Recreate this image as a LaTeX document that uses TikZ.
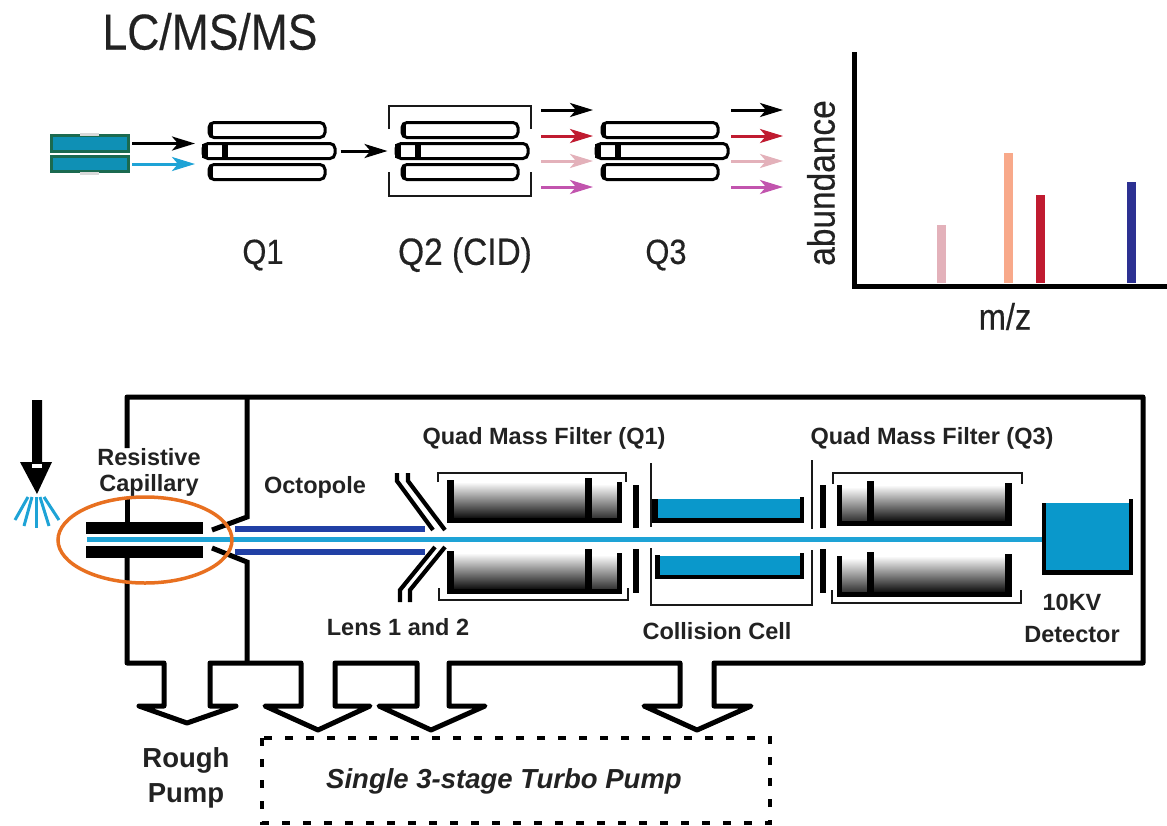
\documentclass[tikz,border=0pt]{standalone}
\usepackage{fontspec}
\setmainfont{Liberation Sans}
\newfontfamily\narrowfont[FakeStretch=0.88,FakeBold=0.35]{Liberation Sans}
\usetikzlibrary{arrows.meta, positioning, shapes.geometric, calc}
\definecolor{teal1}{HTML}{0A98CB}
\definecolor{srcfill}{HTML}{0F90B5}
\definecolor{tealedge}{HTML}{1B6A50}
\definecolor{beam}{HTML}{1EA3D6}
\definecolor{octo}{HTML}{2140A5}
\definecolor{ring}{HTML}{E87020}
\definecolor{ionred}{HTML}{C01B30}
\definecolor{ionpink}{HTML}{E3B1BA}
\definecolor{ionmag}{HTML}{C254AE}
\definecolor{peaksalmon}{HTML}{F8A98A}
\definecolor{peaknavy}{HTML}{2C3192}
\definecolor{labelgray}{HTML}{222222}
\tikzset{
  rodbox/.style={draw=black,fill=white,line width=3pt,rounded corners=5pt,inner sep=0pt,minimum height=15pt},
  srcbox/.style={draw=tealedge,fill=srcfill,line width=3pt,inner sep=0pt,minimum width=77pt,minimum height=15.5pt},
  ionarrow/.style={line width=3pt,-{Stealth[length=23pt,width=14pt,inset=6pt]}},
  bracket/.style={line width=2.4pt,black!90},
  wall/.style={line width=5pt,line join=miter},
  thinwall/.style={line width=2.4pt,black!90},
  toplabel/.style={font=\narrowfont\fontsize{37}{40}\selectfont,text=labelgray,inner sep=0pt},
  boldlabel/.style={font=\bfseries\fontsize{23.5}{26}\selectfont,text=labelgray,align=center,inner sep=0pt},
  pumplabel/.style={font=\bfseries\fontsize{27.5}{35}\selectfont,text=labelgray,align=center,inner sep=0pt},
  quadrods/.pic={
    \node[rodbox,minimum width=116pt] (-up) at (65,-21) {};
    \node[rodbox,minimum width=132pt] (-mid) at (67,0) {};
    \node[rodbox,minimum width=116pt] (-low) at (65,21) {};
    \fill (7,-28) rectangle (11,-14);
    \fill (7,14) rectangle (11,28);
    \fill (0,-7) rectangle (6,7);
    \fill (20,-7) rectangle (26,7);
  },
  filterhalf/.pic={
    \shade[top color=white,middle color=black!55,bottom color=black] (6,2) rectangle (140,40);
    \shade[top color=white,middle color=black!40,bottom color=black!85] (144,4) rectangle (172,40);
    \fill (0,0) rectangle (7,43);
    \fill (138,-2) rectangle (145,43);
    \fill (170,2) rectangle (175,43);
    \fill (0,38) rectangle (175,43);
  }
}
\begin{document}
\begin{tikzpicture}[x=1pt,y=-1pt]
  \useasboundingbox (0,0) rectangle (1167,825);

  % upper scheme
  \node[font=\narrowfont\fontsize{50.5}{52}\selectfont,text=labelgray,inner sep=0pt] (title) at (210,31.5) {LC/MS/MS};
  \node[srcbox] (srcup) at (90,143.5) {};
  \node[srcbox] (srclow) at (90,164) {};
  \fill[black!15] (80,133) rectangle (99,136);
  \fill[black!15] (80,172) rectangle (99,174.5);

  \pic (qa) at (202,151) {quadrods};
  \pic (qb) at (395,151) {quadrods};
  \pic (qc) at (595,151) {quadrods};
  \draw[bracket] (389,129) -- (389,106) -- (531,106) -- (531,129);
  \draw[bracket] (389,172) -- (389,196) -- (531,196) -- (531,172);

  \coordinate (ina) at (195,143.5);
  \coordinate (inb) at (195,164);
  \draw[ionarrow] (srcup.east) ++(2,0) -- (ina);
  \draw[ionarrow,beam] (srclow.east) ++(2,0) -- (inb);
  \draw[ionarrow,shorten <=4pt,shorten >=7pt] (qa-mid.east) -- (qb-mid.west);

  \foreach \yy/\cc in {110/black,136/ionred,161/ionpink,187/ionmag}{
    \coordinate (pa\yy) at (541,\yy);
    \coordinate (pb\yy) at (593,\yy);
    \coordinate (pc\yy) at (731,\yy);
    \coordinate (pd\yy) at (783,\yy);
    \draw[ionarrow,\cc] (pa\yy) -- (pb\yy);
    \draw[ionarrow,\cc] (pc\yy) -- (pd\yy);
  }

  \node[toplabel,font=\narrowfont\fontsize{35}{38}\selectfont] (lblqa) at (263,255) {Q1};
  \node[toplabel,font=\narrowfont\fontsize{38}{40}\selectfont] (lblqb) at (465,255) {Q2 (CID)};
  \node[toplabel,font=\narrowfont\fontsize{35}{38}\selectfont] (lblqc) at (666,255) {Q3};

  % spectrum
  \draw[line width=5pt] (854,52) -- (854,286) -- (1167,286);
  \foreach \xa/\ytop/\cc in {937/225/ionpink,1004/153/peaksalmon,1036/195/ionred,1127/182/peaknavy}
    \fill[\cc] (\xa,\ytop) rectangle ++(9,283-\ytop);
  \node[toplabel,rotate=90,font=\narrowfont\fontsize{38}{40}\selectfont] (lblabund) at (821,183) {abundance};
  \node[toplabel] (lblmz) at (1005,316.5) {m/z};

  % lower scheme, housing and pump arrows
  \draw[wall,line join=round] (127,448) -- (127,397) -- (1143,397) -- (1143,663)
    -- (714,663) -- (714,706) -- (751,706) -- (697,730) -- (644,706) -- (680,706) -- (680,663)
    -- (449,663) -- (449,706) -- (485,706) -- (431,730) -- (379,706) -- (417,706) -- (417,663)
    -- (335,663) -- (335,706) -- (370,706) -- (318,730) -- (265,706) -- (301,706) -- (301,663)
    -- (210,663) -- (210,706) -- (236,706) -- (187,723) -- (139,706) -- (164,706) -- (164,663)
    -- (127,663) -- (127,558);
  \draw[wall] (127,497) -- (127,522);
  \draw[wall] (247,397) -- (247,517) -- (212,530);
  \draw[wall] (212,548) -- (247,562) -- (247,663);

  % sample inlet
  \fill (32,400) -- (42,400) -- (42,462) -- (52,462) -- (37,494) -- (20,462) -- (32,462) -- cycle;
  \fill[white] (32,464) rectangle (42,468);
  \foreach \xa/\xb/\yb in {28/15/520,32/24/526,36/36/528,40/49/526,44/59/520}
    \draw[beam,line width=3pt] (\xa,497) -- (\xb,\yb);

  % capillary and ion path
  \node[fill=black,inner sep=0pt,minimum width=117pt,minimum height=12pt] (capup) at (144.5,528) {};
  \node[fill=black,inner sep=0pt,minimum width=117pt,minimum height=12pt] (caplow) at (144.5,552) {};
  \node[fill=octo,inner sep=0pt,minimum width=190pt,minimum height=6pt] (octup) at (330,528.5) {};
  \node[fill=octo,inner sep=0pt,minimum width=190pt,minimum height=6pt] (octlow) at (330,552) {};
  \node[fill=teal1,inner sep=0pt,minimum width=91pt,minimum height=72pt] (det) at (1087.5,539) {};
  \coordinate (beamin) at (87,539);
  \draw[beam,line width=5pt] (beamin) -- (det.west);
  \draw[ring,line width=3.5pt] (145,540) ellipse [x radius=87,y radius=43];

  % lenses
  \draw[line width=4.2pt] (397,473) -- (397,481) -- (433,530);
  \draw[line width=4.2pt] (408,473) -- (408,481) -- (445,530);
  \draw[line width=4.2pt] (400,602) -- (400,590) -- (435,547);
  \draw[line width=4.2pt] (410,602) -- (410,590) -- (445,547);

  % quad filters
  \pic at (447,480) {filterhalf};
  \pic at (447,551) {filterhalf};
  \pic[xscale=-1] at (1012,483) {filterhalf};
  \pic[xscale=-1] at (1012,554) {filterhalf};
  \draw[bracket] (438,482) -- (438,473) -- (626,473) -- (626,482);
  \draw[bracket] (439,588) -- (439,600) -- (628,600) -- (628,588);
  \draw[bracket] (833,484) -- (833,473) -- (1022,473) -- (1022,484);
  \draw[bracket] (832,590) -- (832,603) -- (1021,603) -- (1021,590);

  % collision cell
  \foreach \xa in {636,823}{
    \draw[line width=6pt] (\xa,485) -- (\xa,528);
    \draw[line width=6pt] (\xa,549) -- (\xa,593);
  }
  \draw[thinwall] (651,463) -- (651,527);
  \draw[thinwall] (812,460) -- (812,529);
  \draw[thinwall] (651,548) -- (651,605) -- (812,605) -- (812,550);
  \fill[teal1] (658,499) rectangle (800,518);
  \fill (652,499) rectangle (658,523);
  \fill (652,518) rectangle (804,523);
  \fill (800,497) rectangle (804,523);
  \fill[teal1] (660,556) rectangle (800,575);
  \fill (655,555) rectangle (660,579);
  \fill (655,575) rectangle (804,579);
  \fill (800,553) rectangle (804,579);

  % detector
  \fill (1042,503) rectangle (1046,575);
  \fill (1129,499) rectangle (1133,575);
  \fill (1042,570) rectangle (1133,575);

  % labels
  \node[boldlabel] (lblq1) at (544,438.5) {Quad Mass Filter (Q1)};
  \node[boldlabel] (lblq3) at (932,438.5) {Quad Mass Filter (Q3)};
  \node[boldlabel] (lblcap) at (149,472) {Resistive\\Capillary};
  \node[boldlabel] (lblocto) at (315,487) {Octopole};
  \node[boldlabel] (lbllens) at (398,627) {Lens 1 and 2};
  \node[boldlabel] (lblcell) at (717,631) {Collision Cell};
  \node[boldlabel,font=\bfseries\fontsize{23.5}{32}\selectfont] (lbldet) at (1072,618) {10KV\\Detector};
  \node[pumplabel] (lblrough) at (186,778) {Rough\\Pump};
  \draw[line width=3.6pt,dash pattern=on 8pt off 13pt] (262,738) rectangle (770,823);
  \node[pumplabel,font=\bfseries\itshape\fontsize{27.5}{30}\selectfont] (lblturbo) at (504,781) {Single 3-stage Turbo Pump};
\end{tikzpicture}
\end{document}
